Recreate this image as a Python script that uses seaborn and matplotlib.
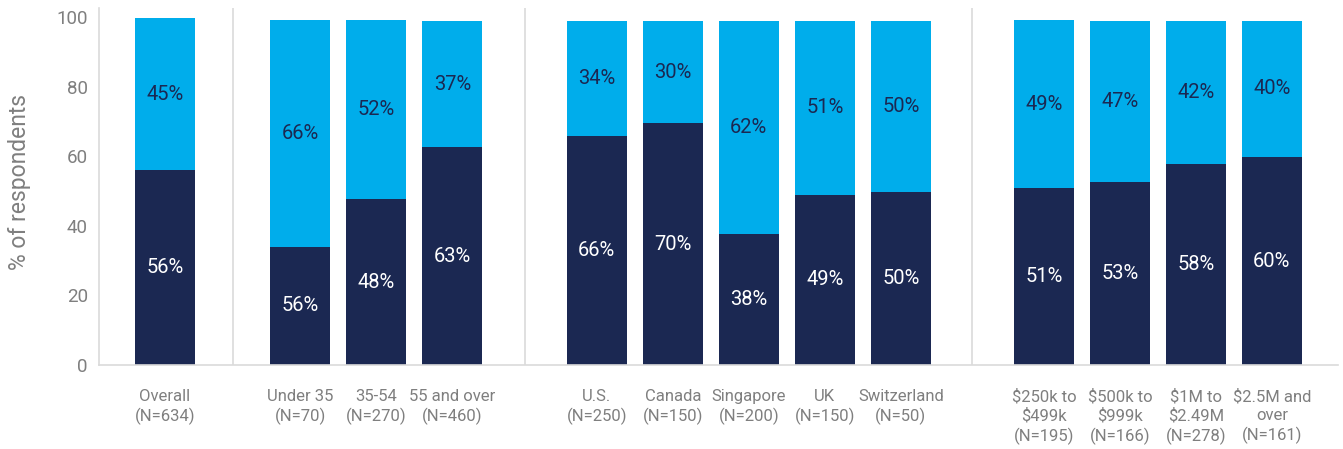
import numpy as np
import pandas as pd
import matplotlib
matplotlib.use("Agg")
import matplotlib.pyplot as plt
import seaborn as sns

# ---- data ----
categories = [
    "Overall\n(N=634)",
    "Under 35\n(N=70)", "35-54\n(N=270)", "55 and over\n(N=460)",
    "U.S.\n(N=250)", "Canada\n(N=150)", "Singapore\n(N=200)", "UK\n(N=150)", "Switzerland\n(N=50)",
    "$250k to\n$499k\n(N=195)", "$500k to\n$999k\n(N=166)", "$1M to\n$2.49M\n(N=278)", "$2.5M and\nover\n(N=161)",
]
group_sizes = [1, 3, 5, 4]
dark_values = [56.0, 34.0, 47.7, 62.6, 65.8, 69.5, 37.6, 48.9, 49.7, 50.9, 52.6, 57.8, 59.8]
light_values = [43.7, 65.2, 51.4, 36.3, 33.1, 29.4, 61.3, 50.0, 49.2, 48.2, 46.3, 41.1, 39.1]
dark_labels = ["56%", "56%", "48%", "63%", "66%", "70%", "38%", "49%", "50%", "51%", "53%", "58%", "60%"]
light_labels = ["45%", "66%", "52%", "37%", "34%", "30%", "62%", "51%", "50%", "49%", "47%", "42%", "40%"]
yticks = [0, 20, 40, 60, 80, 100]

DARK = "#1B2852"
LIGHT = "#00ADEB"
GRAY_TXT = "#7F7F7F"
GRAY_LINE = "#DADADA"

# ---- layout positions ----
gaps = [1.78, 1.9, 1.88]
positions = []
x = 0.0
for gi, size in enumerate(group_sizes):
    if gi > 0:
        x += gaps[gi - 1]
    for k in range(size):
        if k > 0:
            x += 1.0
        positions.append(round(x, 3))
group_ends = np.cumsum(group_sizes)
separators = [(positions[e - 1] + positions[e]) / 2 for e in group_ends[:-1]]

sns.set_theme(style="white")
plt.rcParams["font.family"] = ["Roboto", "DejaVu Sans"]

fig = plt.figure(figsize=(13.43, 4.49), dpi=100)
ax = fig.add_axes([0.0737, 0.187, 0.9226, 0.795])

df = pd.DataFrame({
    "pos": positions,
    "total": [d + l for d, l in zip(dark_values, light_values)],
    "dark": dark_values,
})

sns.barplot(data=df, x="pos", y="total", native_scale=True, width=0.79,
            color=LIGHT, saturation=1, errorbar=None, ax=ax, linewidth=0)
sns.barplot(data=df, x="pos", y="dark", native_scale=True, width=0.79,
            color=DARK, saturation=1, errorbar=None, ax=ax, linewidth=0)

for p, d, l, dl, ll in zip(positions, dark_values, light_values, dark_labels, light_labels):
    ax.text(p, d / 2, dl, ha="center", va="center", color="white", fontsize=14.5)
    ax.text(p, d + l / 2, ll, ha="center", va="center", color=DARK, fontsize=14.5)

for s in separators:
    ax.axvline(s, color=GRAY_LINE, lw=1.2, zorder=0)

ax.set_ylim(0, 102.6)
ax.set_xlim(-0.868, 15.43)
ax.set_yticks(yticks)
ax.set_yticklabels([str(t) for t in yticks], color=GRAY_TXT, fontsize=13.5)
ax.set_xticks(positions)
ax.set_xticklabels(categories, color=GRAY_TXT, fontsize=12, linespacing=1.3)
ax.tick_params(axis="y", length=0, pad=8)
ax.tick_params(axis="x", length=0, pad=17)
ax.set_xlabel("")
ax.set_ylabel("% of respondents", color=GRAY_TXT, fontsize=16.5)
ax.yaxis.set_label_coords(-0.0549, 0.514)

for side in ["top", "right"]:
    ax.spines[side].set_visible(False)
for side in ["left", "bottom"]:
    ax.spines[side].set_color(GRAY_LINE)
    ax.spines[side].set_linewidth(1.2)

fig.savefig("out.png", dpi=100)
